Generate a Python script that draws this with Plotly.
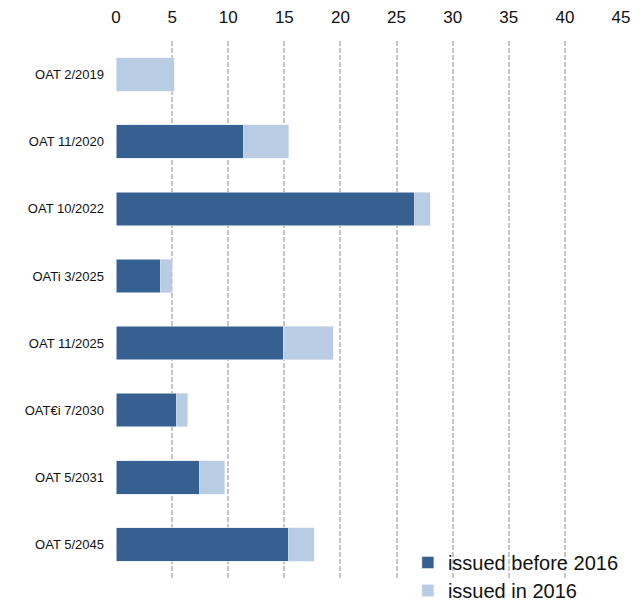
import plotly.graph_objects as go

categories = ["OAT 2/2019", "OAT 11/2020", "OAT 10/2022", "OATi 3/2025",
              "OAT 11/2025", "OAT€i 7/2030", "OAT 5/2031", "OAT 5/2045"]
issued_before_2016 = [0.0, 11.4, 26.6, 4.0, 14.9, 5.4, 7.45, 15.4]
issued_in_2016 = [5.2, 4.0, 1.4, 1.0, 4.45, 1.0, 2.25, 2.25]
x_ticks = [0, 5, 10, 15, 20, 25, 30, 35, 40, 45]

DARK = "#36608F"
LIGHT = "#B8CCE4"
FONT = "Liberation Sans, Arial, sans-serif"

fig = go.Figure()
fig.add_trace(go.Bar(
    y=categories, x=issued_before_2016, orientation="h",
    name="issued before 2016", marker=dict(color=DARK, line=dict(color="#dfe7f1", width=0.6)),
    width=0.5, legend="legend",
))
fig.add_trace(go.Bar(
    y=categories, x=issued_in_2016, orientation="h",
    name="issued in 2016", marker=dict(color=LIGHT, line=dict(color="#e6edf5", width=0.6)),
    width=0.5, legend="legend2",
))

fig.update_layout(
    width=644, height=604,
    barmode="stack",
    plot_bgcolor="white", paper_bgcolor="white",
    margin=dict(l=116, r=23, t=41, b=26, autoexpand=False),
    font=dict(family=FONT, color="#111111"),
    showlegend=True,
    legend=dict(x=0.578, y=-0.0074, xanchor="left", yanchor="bottom",
                bgcolor="rgba(0,0,0,0)", font=dict(size=20, color="#111111"),
                itemwidth=30, tracegroupgap=0),
    legend2=dict(x=0.578, y=-0.0596, xanchor="left", yanchor="bottom",
                 bgcolor="rgba(0,0,0,0)", font=dict(size=20, color="#111111"),
                 itemwidth=30, tracegroupgap=0),
    xaxis=dict(
        side="top", range=[0, 45], tickvals=x_ticks, ticktext=[str(v) for v in x_ticks],
        showgrid=True, gridcolor="#c6c6c6", griddash="5px,2px", gridwidth=1.5,
        zeroline=False, showline=False, ticks="", ticklabelstandoff=14,
        tickfont=dict(size=17, color="#111111"), automargin=False,
    ),
    yaxis=dict(
        autorange="reversed", showgrid=False, zeroline=False, showline=False,
        ticks="", ticklabelstandoff=11, tickfont=dict(size=13, color="#111111"),
        automargin=False,
    ),
)

fig.write_html("out.html")
